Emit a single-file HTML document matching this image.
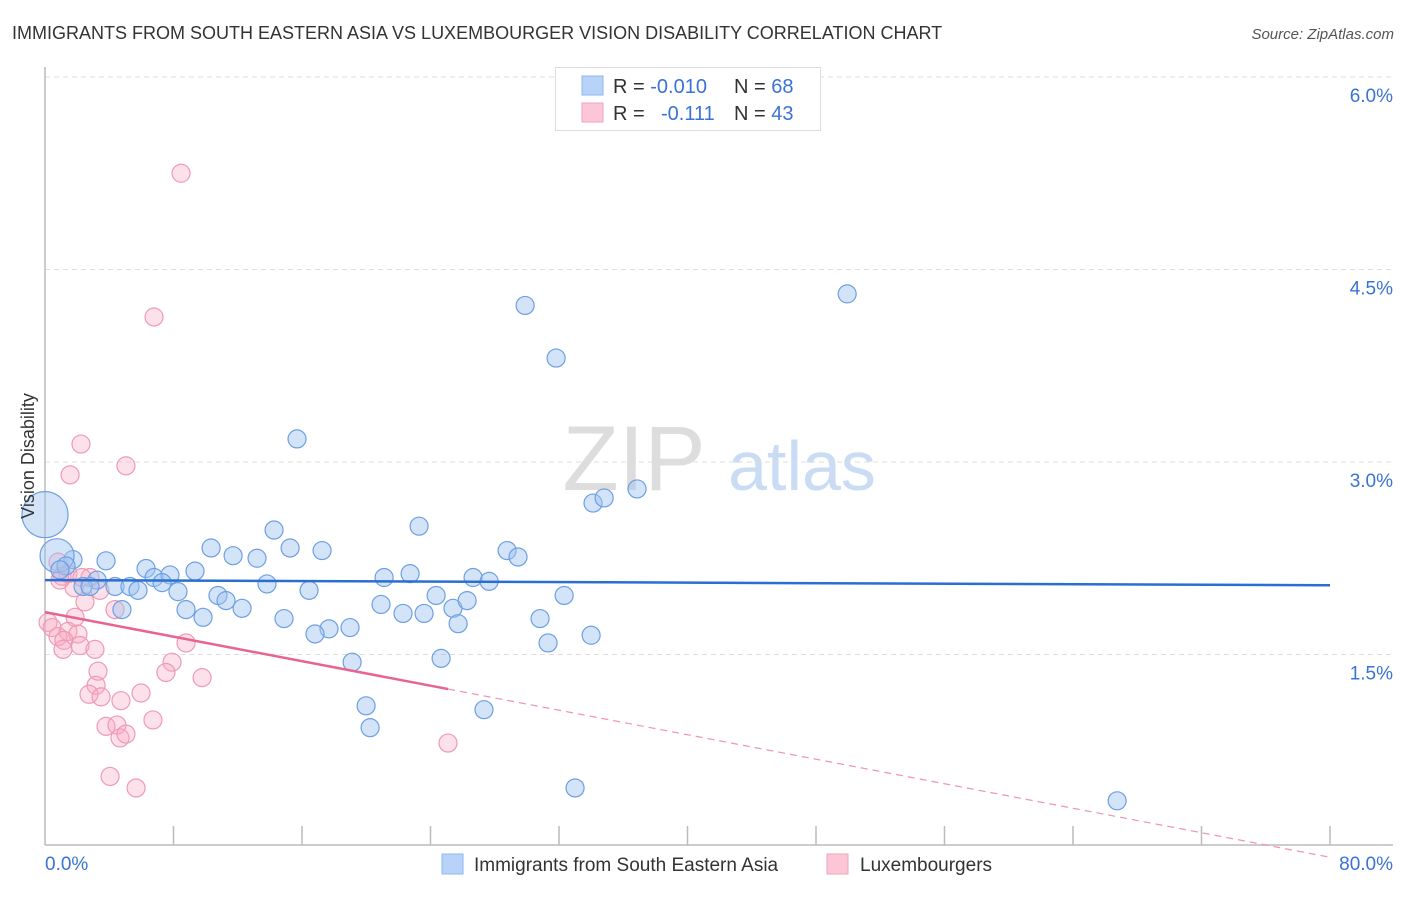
<!DOCTYPE html>
<html><head><meta charset="utf-8"><style>
body{margin:0;background:#fff;font-family:"Liberation Sans",sans-serif;}
svg text{font-family:"Liberation Sans",sans-serif;}
</style></head><body>
<svg id="chart" width="1406" height="892" xmlns="http://www.w3.org/2000/svg">
<text x="12" y="39" font-size="18" fill="#333">IMMIGRANTS FROM SOUTH EASTERN ASIA VS LUXEMBOURGER VISION DISABILITY CORRELATION CHART</text>
<text x="1394" y="39" font-size="15" fill="#555" text-anchor="end" font-style="italic">Source: ZipAtlas.com</text>
<g>
<text x="634" y="490" font-size="92" fill="#ddd" font-family="Liberation Serif" text-anchor="middle">ZIP</text>
<text x="802" y="490" font-size="70" fill="#c9dcf3" text-anchor="middle">atlas</text>
</g>
<g id="grid"></g>
<g id="axes"></g>
<g id="pts"></g>
<g id="lines"></g>
<text transform="translate(34,456) rotate(-90)" font-size="18" fill="#333" text-anchor="middle">Vision Disability</text>
<g>
<rect x="555.5" y="67.5" width="265" height="63" fill="#fff" stroke="#ddd"/>
<rect x="582" y="76" width="21" height="19" fill="#b7d3f7" stroke="#8fb7ec"/>
<rect x="582" y="103" width="21" height="19" fill="#fbc6d6" stroke="#f3a2bb"/>
<text x="613" y="93" font-size="20" fill="#333">R = <tspan fill="#3a73d4">-0.010</tspan></text>
<text x="734" y="93" font-size="20" fill="#333">N = <tspan fill="#3a73d4">68</tspan></text>
<text x="613" y="120" font-size="20" fill="#333">R = </text>
<text x="661" y="120" font-size="20" fill="#3a73d4">-0.111</text>
<text x="734" y="120" font-size="20" fill="#333">N = <tspan fill="#3a73d4">43</tspan></text>
</g>
<g>
<rect x="442" y="854" width="21" height="20" fill="#b7d3f7" stroke="#8fb7ec"/>
<text x="474" y="871" font-size="19" fill="#333">Immigrants from South Eastern Asia</text>
<rect x="827" y="854" width="21" height="20" fill="#fbc6d6" stroke="#f3a2bb"/>
<text x="860" y="871" font-size="19" fill="#333">Luxembourgers</text>
</g>
</svg>
<script>
const yTicks=[1.5,3.0,4.5,6.0];
const xTickLabels=["0.0%","80.0%"];
const blueX=[29.89,49.94,31.82,15.69,34.12,34.81,36.86,23.29,14.26,10.34,11.71,13.20,15.26,17.25,28.77,29.45,3.80,1.74,0.75,0,6.29,6.79,7.78,9.34,22.73,21.11,26.65,27.65,3.24,2.37,4.36,5.29,5.79,7.29,8.28,10.77,11.27,13.82,16.44,12.27,8.78,9.84,14.88,20.92,22.29,23.60,24.35,25.40,26.28,25.72,30.82,32.32,4.79,17.68,16.81,18.99,31.32,34.00,19.12,24.66,19.99,20.24,27.33,33.00,66.75,1.31,2.80,0.93];
const blueY=[4.22,4.31,3.81,3.18,2.68,2.72,2.79,2.50,2.47,2.33,2.27,2.25,2.33,2.31,2.31,2.26,2.23,2.24,2.27,2.59,2.17,2.10,2.12,2.15,2.13,2.10,2.10,2.07,2.08,2.03,2.03,2.03,2.00,2.06,1.99,1.96,1.92,2.05,2.00,1.86,1.85,1.79,1.78,1.89,1.82,1.82,1.96,1.86,1.92,1.74,1.78,1.96,1.85,1.70,1.66,1.71,1.59,1.65,1.44,1.47,1.10,0.93,1.07,0.46,0.36,2.19,2.03,2.16];
const blueR=[9,9,9,9,9,9,9,9,9,9,9,9,9,9,9,9,9,9,17,23,9,9,9,9,9,9,9,9,9,9,9,9,9,9,9,9,9,9,9,9,9,9,9,9,9,9,9,9,9,9,9,9,9,9,9,9,9,9,9,9,9,9,9,9,9,9,9,9];
const pinkX=[8.47,6.79,2.24,1.56,5.04,0.81,1.06,1.43,2.80,1.81,2.49,4.36,1.87,0.19,0.44,1.43,0.81,2.05,1.18,2.18,3.11,1.12,8.78,3.30,7.91,7.53,9.78,3.18,2.74,3.49,4.73,5.98,3.80,4.48,6.72,4.67,5.04,25.09,4.05,5.67,2.30,0.93,3.42];
const pinkY=[5.25,4.13,3.14,2.90,2.97,2.22,2.11,2.13,2.10,2.02,1.91,1.85,1.79,1.75,1.71,1.68,1.64,1.66,1.61,1.57,1.54,1.54,1.59,1.37,1.44,1.36,1.32,1.26,1.19,1.17,1.14,1.20,0.94,0.95,0.99,0.85,0.88,0.81,0.55,0.46,2.10,2.08,2.00];
const blueFit=[2.08,2.04];
const pinkFit=[1.83,-0.08];
const pinkSolidEnd=25.1;
const NS="http://www.w3.org/2000/svg";
const X=v=>45+v*(1285/80), Y=v=>847-v*128.33;
function mk(p,tag,a){const e=document.createElementNS(NS,tag);for(const k in a)e.setAttribute(k,a[k]);p.appendChild(e);return e;}
const grid=document.getElementById('grid'),axes=document.getElementById('axes'),pts=document.getElementById('pts'),lines=document.getElementById('lines');
yTicks.forEach(t=>{
 const l=mk(grid,'line',{x1:45,x2:1393,y1:Y(t),y2:Y(t),stroke:'#ddd','stroke-dasharray':'5,4'});
 
 
 const tx=mk(grid,'text',{x:1393,y:Y(t)+25,'font-size':19,fill:'#3a73d4','text-anchor':'end'});
 tx.textContent=t.toFixed(1)+'%';
 
 
});
const ya=mk(axes,'line',{x1:45,x2:45,y1:67,y2:845,stroke:'#bbb','stroke-width':1.5});


const xa=mk(axes,'line',{x1:45,x2:1393,y1:845,y2:845,stroke:'#bbb','stroke-width':1.5});


for(let i=1;i<=10;i++){
 const t=mk(axes,'line',{x1:X(i*8),x2:X(i*8),y1:826,y2:845,stroke:'#bbb','stroke-width':1.5});
 
 
}
const xl0=mk(axes,'text',{x:45,y:870,'font-size':19,fill:'#3a73d4'});xl0.textContent=xTickLabels[0];


const xl1=mk(axes,'text',{x:1393,y:870,'font-size':19,fill:'#3a73d4','text-anchor':'end'});xl1.textContent=xTickLabels[1];


pinkX.forEach((x,i)=>{
 const c=mk(pts,'circle',{cx:X(x),cy:Y(pinkY[i]),r:9,fill:'rgba(248,170,195,0.35)',stroke:'#ef9ab4','stroke-width':1.2});
 
 
});
blueX.forEach((x,i)=>{
 const c=mk(pts,'circle',{cx:X(x),cy:Y(blueY[i]),r:blueR[i],fill:'rgba(160,195,240,0.45)',stroke:'#6d9fe3','stroke-width':1.2});
 
 
});
const bl=mk(lines,'line',{x1:X(0),y1:Y(blueFit[0]),x2:X(80),y2:Y(blueFit[1]),stroke:'#2a6fd0','stroke-width':2.5});


const pAt=x=>pinkFit[0]+(pinkFit[1]-pinkFit[0])*x/80;
const pl=mk(lines,'line',{x1:X(0),y1:Y(pAt(0)),x2:X(pinkSolidEnd),y2:Y(pAt(pinkSolidEnd)),stroke:'#e8648f','stroke-width':2.5});


const pd=mk(lines,'line',{x1:X(pinkSolidEnd),y1:Y(pAt(pinkSolidEnd)),x2:X(80),y2:Y(pAt(80)),stroke:'#ee93b0','stroke-width':1.2,'stroke-dasharray':'7,5'});


</script>
</body></html>
